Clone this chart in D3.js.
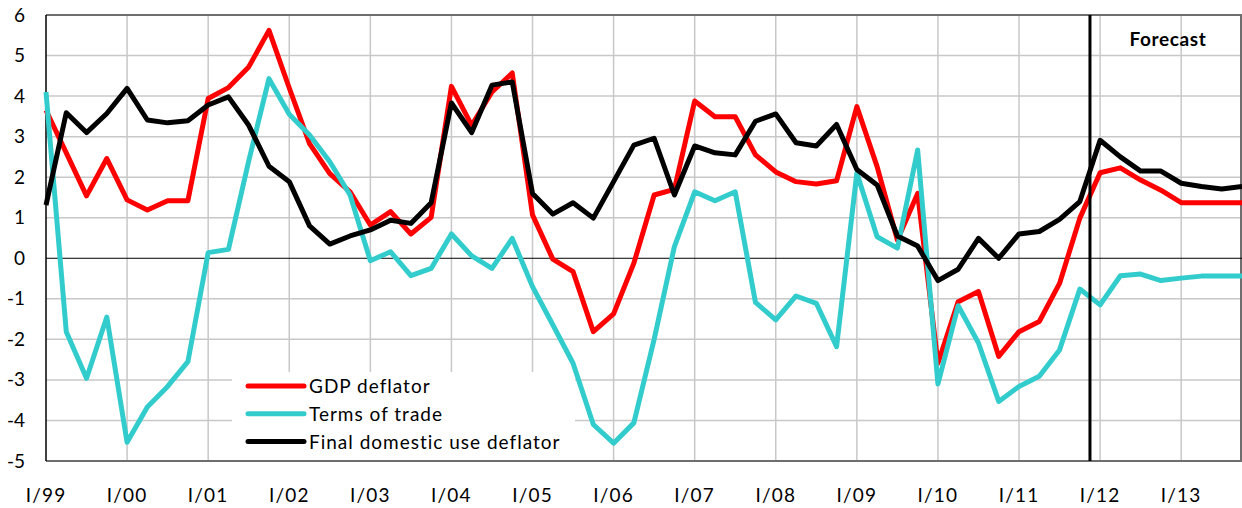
<!DOCTYPE html>
<html>
<head>
<meta charset="utf-8">
<script src="https://cdn.jsdelivr.net/npm/d3@7"></script>
<style>
  body { margin: 0; background: #fff; }
  svg { display: block; font-family: Lato, "Open Sans", sans-serif; }
</style>
</head>
<body>
<svg id="chart" width="1242" height="508"></svg>
<script>
// quarters I/99 .. IV/13
var years = ["99","00","01","02","03","04","05","06","07","08","09","10","11","12","13"];
var quarters = [];
years.forEach(function(y) {
  ["I","II","III","IV"].forEach(function(q) { quarters.push(q + "/" + y); });
});

var gdpDeflator = [
  3.65, 2.6, 1.54, 2.46, 1.44, 1.19, 1.42, 1.42,
  3.94, 4.21, 4.72, 5.62, 4.2, 2.83, 2.09, 1.64,
  0.82, 1.15, 0.6, 1.01, 4.24, 3.28, 4.1, 4.57,
  1.07, -0.02, -0.33, -1.81, -1.37, -0.12, 1.56, 1.7,
  3.88, 3.49, 3.49, 2.55, 2.13, 1.89, 1.83, 1.91,
  3.74, 2.26, 0.45, 1.6, -2.59, -1.07, -0.82, -2.42,
  -1.81, -1.56, -0.62, 0.99, 2.11, 2.23, 1.93, 1.68,
  1.37, 1.37, 1.37, 1.37
];

var termsOfTrade = [
  4.1, -1.81, -2.96, -1.45, -4.54, -3.67, -3.16, -2.55,
  0.14, 0.22, 2.4, 4.43, 3.55, 3.04, 2.38, 1.56,
  -0.06, 0.16, -0.43, -0.25, 0.6, 0.06, -0.25, 0.49,
  -0.7, -1.64, -2.59, -4.1, -4.56, -4.06, -2.0, 0.29,
  1.64, 1.42, 1.64, -1.09, -1.52, -0.93, -1.11, -2.18,
  2.1, 0.53, 0.25, 2.67, -3.1, -1.17, -2.09, -3.53,
  -3.16, -2.91, -2.26, -0.76, -1.15, -0.43, -0.39, -0.55,
  -0.49, -0.44, -0.44, -0.44
];

var finalDomestic = [
  1.31, 3.59, 3.1, 3.57, 4.19, 3.41, 3.34, 3.39,
  3.78, 3.98, 3.28, 2.27, 1.89, 0.8, 0.35, 0.55,
  0.7, 0.94, 0.86, 1.37, 3.83, 3.1, 4.27, 4.35,
  1.6, 1.09, 1.37, 0.99, 1.89, 2.79, 2.96, 1.56,
  2.77, 2.6, 2.55, 3.38, 3.56, 2.85, 2.77, 3.3,
  2.19, 1.81, 0.55, 0.3, -0.55, -0.27, 0.49, 0.0,
  0.6, 0.66, 0.96, 1.4, 2.91, 2.5, 2.15, 2.15,
  1.85, 1.77, 1.71, 1.77
];

var yTicks = [-5, -4, -3, -2, -1, 0, 1, 2, 3, 4, 5, 6];
var forecastStart = 51.5; // between IV/11 and I/12

var series = [
  { name: "GDP deflator", values: gdpDeflator, color: "#ff0000" },
  { name: "Terms of trade", values: termsOfTrade, color: "#33cccc" },
  { name: "Final domestic use deflator", values: finalDomestic, color: "#000000" }
];

var svg = d3.select("#chart");
var plotL = 46, plotR = 1242, plotT = 15, plotB = 461;

var x = d3.scaleLinear().domain([0, quarters.length - 1]).range([plotL, plotR]);
var y = d3.scaleLinear().domain([-5, 6]).range([plotB, plotT]);

var yearIdx = d3.range(0, quarters.length, 4);

// grid
svg.append("g").selectAll("line").data(yTicks.filter(function(d) { return d !== 0; }))
  .enter().append("line")
  .attr("x1", plotL).attr("x2", plotR)
  .attr("y1", function(d) { return y(d); }).attr("y2", function(d) { return y(d); })
  .attr("stroke", "#c8c8c8").attr("stroke-width", 1.5);

svg.append("g").selectAll("line").data(yearIdx.slice(1))
  .enter().append("line")
  .attr("x1", function(d) { return x(d); }).attr("x2", function(d) { return x(d); })
  .attr("y1", plotT).attr("y2", plotB)
  .attr("stroke", "#c8c8c8").attr("stroke-width", 1.5);

// frame
svg.append("line").attr("x1", plotL).attr("x2", plotR).attr("y1", plotT).attr("y2", plotT)
  .attr("stroke", "#6e6e6e").attr("stroke-width", 2);
svg.append("line").attr("x1", plotL).attr("x2", plotR).attr("y1", plotB).attr("y2", plotB)
  .attr("stroke", "#6e6e6e").attr("stroke-width", 2);
svg.append("line").attr("x1", plotR - 1).attr("x2", plotR - 1).attr("y1", plotT).attr("y2", plotB)
  .attr("stroke", "#6e6e6e").attr("stroke-width", 2);

// legend box (covers grid)
var lg = svg.append("g");
lg.append("rect").attr("x", 232).attr("y", 372).attr("width", 343).attr("height", plotB - 373)
  .attr("fill", "#fff");

// zero line + y axis
svg.append("line").attr("x1", plotL).attr("x2", plotR).attr("y1", y(0)).attr("y2", y(0))
  .attr("stroke", "#000").attr("stroke-width", 1);
svg.append("line").attr("x1", plotL).attr("x2", plotL).attr("y1", plotT).attr("y2", plotB)
  .attr("stroke", "#000").attr("stroke-width", 1.5);

// tick labels
svg.append("g").selectAll("text").data(yTicks).enter().append("text")
  .attr("x", 25).attr("y", function(d) { return y(d) + 6.5; })
  .attr("text-anchor", "end").attr("font-size", 19).attr("fill", "#000")
  .text(function(d) { return d; });

svg.append("g").selectAll("text").data(yearIdx).enter().append("text")
  .attr("x", function(d) { return x(d); }).attr("y", 502)
  .attr("text-anchor", "middle").attr("font-size", 19).attr("letter-spacing", 1.2)
  .attr("fill", "#000")
  .text(function(d) { return quarters[d]; });

// lines
var line = d3.line()
  .x(function(d, i) { return x(i); })
  .y(function(d) { return y(d); });

svg.append("g").selectAll("path").data(series).enter().append("path")
  .attr("d", function(d) { return line(d.values); })
  .attr("fill", "none")
  .attr("stroke", function(d) { return d.color; })
  .attr("stroke-width", 5)
  .attr("stroke-linejoin", "round");

// forecast marker
svg.append("line")
  .attr("x1", x(forecastStart)).attr("x2", x(forecastStart))
  .attr("y1", plotT).attr("y2", plotB)
  .attr("stroke", "#000").attr("stroke-width", 3);
svg.append("text").attr("x", 1168).attr("y", 46)
  .attr("text-anchor", "middle").attr("font-size", 19).attr("font-weight", "bold")
  .attr("letter-spacing", 0.6)
  .text("Forecast");

// legend entries
var rows = lg.selectAll("g.row").data(series).enter().append("g").attr("class", "row")
  .attr("transform", function(d, i) { return "translate(0," + (386 + i * 27.8) + ")"; });
rows.append("line").attr("x1", 248).attr("x2", 304)
  .attr("stroke", function(d) { return d.color; })
  .attr("stroke-width", 5).attr("stroke-linecap", "round");
rows.append("text").attr("x", 309).attr("y", 7)
  .attr("font-size", 19).attr("letter-spacing", 1)
  .attr("fill", "#000")
  .text(function(d) { return d.name; });
</script>
</body>
</html>
